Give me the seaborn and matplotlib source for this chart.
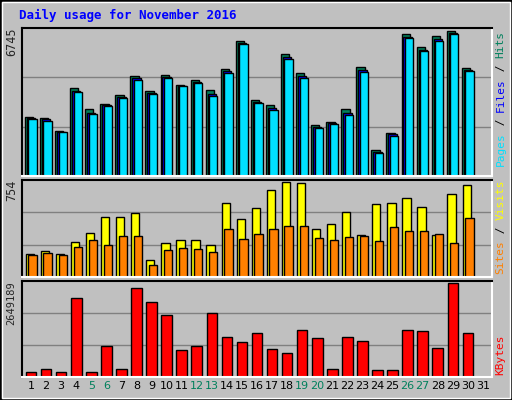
import matplotlib
matplotlib.use("Agg")
import matplotlib.pyplot as plt
import seaborn as sns
import numpy as np

days = list(range(1, 32))
weekend_days = [5, 6, 12, 13, 19, 20, 26, 27]
hits = [2745,2698,2093,4094,3117,3349,3768,4652,3954,4698,4233,4466,4001,4977,6280,3535,3303,5675,4791,2372,2512,3117,5070,1209,2000,6605,6001,6512,6745,5024,0]
files = [2680,2630,2050,3960,2950,3290,3690,4560,3870,4600,4190,4380,3800,4860,6180,3440,3140,5530,4640,2300,2460,2950,4930,1120,1930,6480,5880,6380,6650,4940,0]
pages = [2652,2558,2047,3907,2884,3256,3628,4466,3814,4559,4187,4326,3721,4791,6140,3396,3070,5443,4559,2233,2419,2838,4838,1070,1861,6420,5815,6280,6606,4884,0]
visits = [180,205,180,279,352,475,475,508,131,270,295,295,254,590,459,549,688,754,746,377,418,516,336,582,590,623,557,336,656,729,0]
sites = [172,189,172,238,295,254,328,328,98,213,229,221,197,377,303,344,377,402,402,311,295,320,328,287,393,361,361,344,270,467,0]
kbytes = [144000,230000,144000,2217000,144000,864000,230000,2505000,2102000,1757000,749000,864000,1814000,1123000,979000,1238000,777000,662000,1325000,1094000,230000,1123000,1008000,202000,202000,1325000,1296000,806000,2649189,1238000,0]

sns.set_style("white", {"axes.facecolor": "#C0C0C0", "figure.facecolor": "#C0C0C0"})
plt.rcParams['font.family'] = ['DejaVu Sans Mono', 'DejaVu Sans']

fig = plt.figure(figsize=(5.12, 4.0), dpi=100)
fig.patch.set_facecolor("#C0C0C0")
fig.patches.append(plt.Rectangle((0, 0), 1, 1, transform=fig.transFigure, fill=False, ec="black", lw=2))
fig.patches.append(plt.Rectangle((0.004, 0.005), 0.992, 0.99, transform=fig.transFigure, fill=False, ec="white", lw=1))
fig.text(0.037, 0.962, "Daily usage for November 2016", color="#0000FF", fontsize=9, fontweight="bold", va="center")

L, W = 22/512, 470/512
ax1 = fig.add_axes([L, 1-176/400, W, 148/400])
ax2 = fig.add_axes([L, 1-277/400, W, 97/400])
ax3 = fig.add_axes([L, 1-377/400, W, 96/400])
x = np.array(days)
bw = 0.55

def style(ax, vmax, label, fs=8.5):
    ax.set_facecolor("#C0C0C0")
    ax.set_xlim(0.4, 31.6)
    ax.set_ylim(0, vmax * 1.02)
    for f in (1/3, 2/3):
        ax.axhline(vmax * 1.02 * f, color="#808080", lw=1, zorder=0)
    ax.set_yticks([])
    for s in ax.spines.values():
        s.set_linewidth(1.5)
    ax.spines['top'].set_color("black"); ax.spines['left'].set_color("black")
    ax.spines['bottom'].set_color("white"); ax.spines['right'].set_color("white")
    ax.text(-0.022, 1.0, label, transform=ax.transAxes, rotation=90, ha="center", va="top", fontsize=fs)

style(ax1, max(hits), str(max(hits)))
ax1.bar(x - 0.13, hits, width=bw, color="#00805C", ec="black", lw=1)
ax1.bar(x + 0.0, files, width=bw, color="#0000FF", ec="black", lw=1)
ax1.bar(x + 0.1, pages, width=bw, color="#00E0FF", ec="black", lw=1)

style(ax2, max(visits), str(max(visits)))
ax2.bar(x - 0.08, visits, width=bw, color="#FFFF00", ec="black", lw=1)
ax2.bar(x + 0.1, sites, width=bw, color="#FF8000", ec="black", lw=1)

style(ax3, max(kbytes), str(max(kbytes)), fs=7.5)
ax3.bar(x, kbytes, width=0.7, color="#FF0000", ec="black", lw=1)

for ax in (ax1, ax2):
    ax.set_xticks([])
ax3.set_xticks(days)
ax3.set_xticklabels([str(d) for d in days], fontsize=8, family="DejaVu Sans")
ax3.tick_params(axis="x", length=0, pad=3)
for t, d in zip(ax3.get_xticklabels(), days):
    t.set_color("#00805C" if d in weekend_days else "black")

fig.canvas.draw()
renderer = fig.canvas.get_renderer()

def side(ax, parts, y0):
    # parts listed bottom to top; text rotated 90 reading upward
    y = y0
    for txt, col in parts:
        t = fig.text(0.968, y, txt, rotation=90, ha="left", va="bottom", color=col, fontsize=8,
                     rotation_mode="default")
        bb = t.get_window_extent(renderer)
        y += bb.height / fig.bbox.height

side(ax1, [("Pages", "#00E0FF"), (" / ", "black"), ("Files", "#0000FF"), (" / ", "black"), ("Hits", "#00805C")], 1-166/400)
side(ax2, [("Sites", "#FF8000"), (" / ", "black"), ("Visits", "#FFFF00")], 1-274/400)
side(ax3, [("KBytes", "#FF0000")], 1-375/400)

fig.savefig("out.png", dpi=100, facecolor=fig.get_facecolor())
